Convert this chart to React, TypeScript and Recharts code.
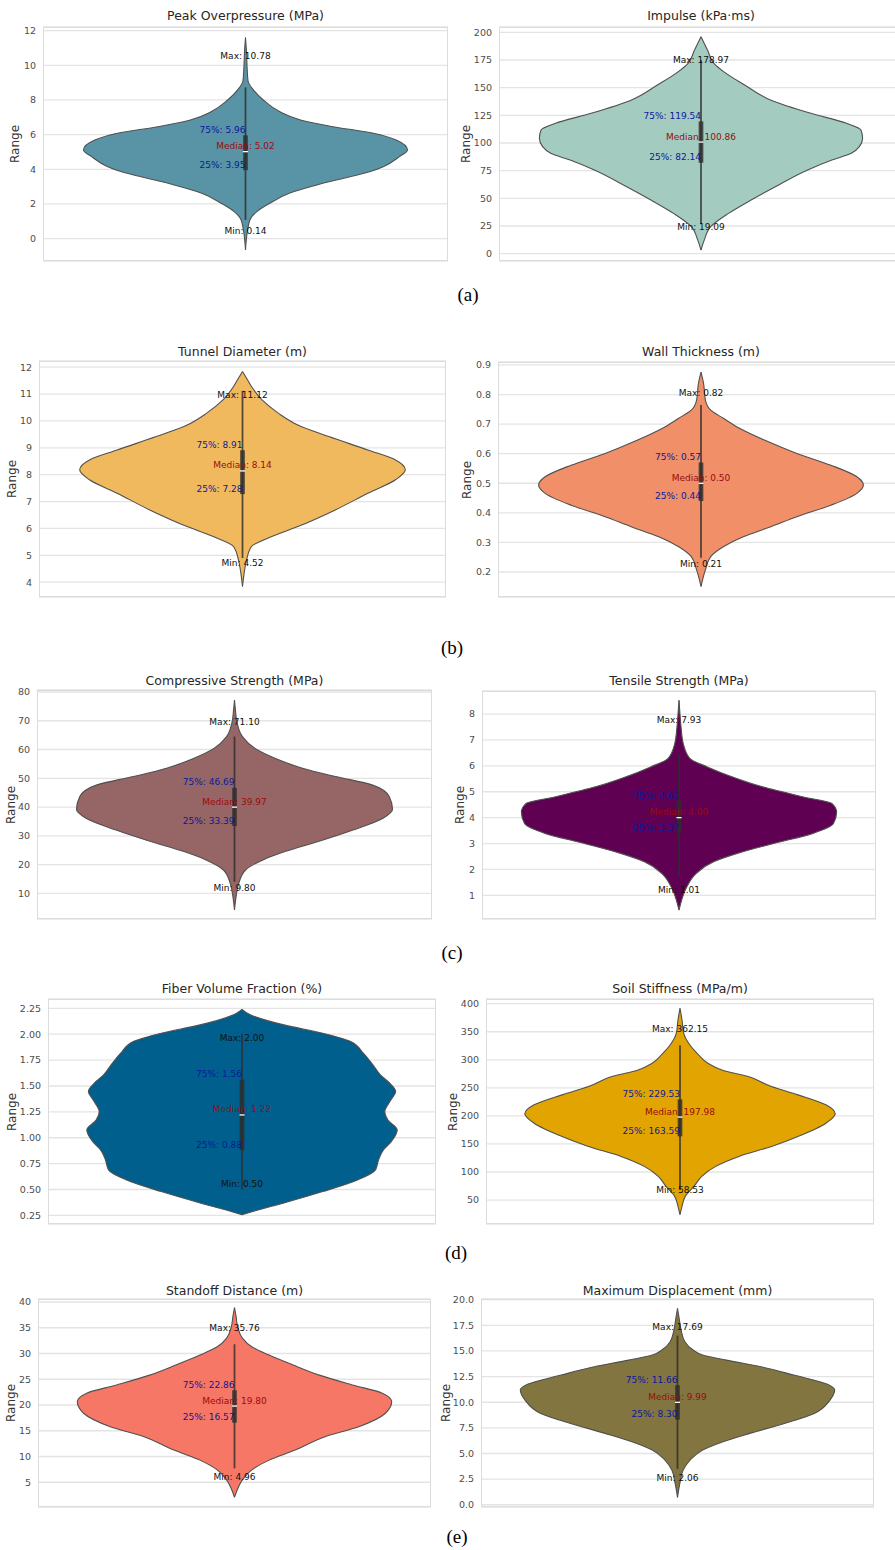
import React from 'react';
import { ComposedChart, Area, XAxis, YAxis, CartesianGrid, ReferenceLine, ReferenceDot } from 'recharts';

// violin outlines: value levels and half-width (% of the widest point)
const PEAK_LEVELS = [-0.65, 0.31, 1.08, 1.56, 2.04, 2.62, 3.1, 3.58, 3.87, 4.15, 4.73, 5.12, 5.69, 6.08, 6.46, 6.85, 7.33, 8.0, 8.6, 9.08, 9.85, 10.8, 11.6];
const PEAK_WIDTHS = [0, 1, 2.7, 7, 15, 27, 44, 65, 77, 85, 95, 100, 93, 79, 54, 34, 21, 11, 4.7, 1.6, 1, 0.6, 0];
const PEAK_STATS = [0.14, 3.95, 5.02, 5.96, 10.78];
const PEAK_WHISKERS = [1.08, 8.73];

const IMPULSE_LEVELS = [3.3, 12.3, 24.4, 36.4, 48.5, 60.5, 75.6, 84.6, 90.7, 96.7, 104.2, 111.7, 117.8, 126.8, 138.9, 152.4, 164.5, 172, 184, 196];
const IMPULSE_WIDTHS = [0, 2, 6, 17, 31, 46, 66, 81, 93, 98, 100, 99, 90, 68, 43, 27, 14, 8, 4, 0];
const IMPULSE_STATS = [19.09, 82.14, 100.86, 119.54, 178.97];
const IMPULSE_WHISKERS = [27, 175];

const TUNNEL_LEVELS = [3.84, 4.33, 4.83, 5.33, 5.7, 6.07, 6.69, 7.31, 7.81, 8.18, 8.55, 8.92, 9.42, 9.85, 10.29, 10.78, 11.28, 11.59, 11.84];
const TUNNEL_WIDTHS = [0, 1, 2.5, 5.5, 18, 34, 57, 77, 94, 100, 94, 77, 53, 34, 22, 12, 5.5, 2.5, 0];
const TUNNEL_STATS = [4.52, 7.28, 8.14, 8.91, 11.12];
const TUNNEL_WHISKERS = [4.9, 11.12];

const WALL_LEVELS = [0.151, 0.207, 0.252, 0.286, 0.319, 0.353, 0.387, 0.426, 0.466, 0.494, 0.522, 0.561, 0.601, 0.646, 0.685, 0.719, 0.747, 0.781, 0.837, 0.876];
const WALL_WIDTHS = [0, 2.7, 6, 14, 26, 43, 59, 80, 96, 100, 96, 80, 59, 39, 24, 14, 6, 2.7, 1.6, 0];
const WALL_STATS = [0.21, 0.44, 0.5, 0.57, 0.82];
const WALL_WHISKERS = [0.248, 0.765];

const COMPRESSIVE_LEVELS = [4.2, 8.85, 13.5, 18.1, 21.6, 24.5, 28.0, 32.0, 36.1, 39.2, 43.6, 47.7, 50.6, 53.5, 56.9, 60.4, 64.5, 69.1, 73.7, 77.2];
const COMPRESSIVE_WIDTHS = [0, 1, 2.7, 7, 18, 32, 53, 75, 94, 100, 98, 87, 64, 43, 26, 13, 5, 1.7, 0.6, 0];
const COMPRESSIVE_STATS = [9.8, 33.39, 39.97, 46.69, 71.1];
const COMPRESSIVE_WHISKERS = [14, 64.5];

const TENSILE_LEVELS = [0.43, 0.82, 1.33, 1.85, 2.3, 2.62, 3.0, 3.39, 3.77, 4.22, 4.55, 4.8, 5.19, 5.57, 5.96, 6.28, 6.86, 7.5, 8.01, 8.53];
const TENSILE_WIDTHS = [0, 1.7, 5, 11, 22, 37, 60, 85, 98, 100, 97, 79, 53, 34, 18, 7, 2.7, 1.3, 0.6, 0];
const TENSILE_STATS = [1.01, 3.37, 4.0, 4.63, 7.93];
const TENSILE_WHISKERS = [1.75, 6.45];

const FIBER_LEVELS = [0.256, 0.29, 0.37, 0.48, 0.59, 0.69, 0.787, 0.88, 0.96, 1.076, 1.17, 1.25, 1.366, 1.446, 1.53, 1.61, 1.69, 1.82, 1.93, 2.01, 2.09, 2.19, 2.24];
const FIBER_WIDTHS = [0, 7.5, 27, 52, 74, 86, 88, 91, 96, 100, 94, 92, 96, 99, 95, 89, 85, 78, 70, 52, 27, 5, 0];
const FIBER_STATS = [0.5, 0.88, 1.22, 1.56, 2.0];
const FIBER_WHISKERS = [0.5, 2.0];

const SOIL_LEVELS = [24, 38.8, 56.6, 74.4, 92.2, 110, 127.8, 145.6, 163.3, 187, 203.7, 219.7, 237.5, 252.3, 270.1, 282, 293.8, 308.7, 329.4, 347.2, 370.9, 391.7];
const SOIL_WIDTHS = [0, 1.3, 3.4, 9, 14, 23, 38, 59, 76, 94, 100, 94, 76, 59, 44, 27, 18, 12, 5.6, 2.4, 1.3, 0];
const SOIL_STATS = [58.53, 163.59, 197.98, 229.53, 362.15];
const SOIL_WHISKERS = [68, 326];

const STANDOFF_LEVELS = [2.1, 3.5, 5.46, 7.4, 9.3, 11.3, 13.9, 15.8, 18.4, 20.66, 22.3, 23.9, 25.8, 27.8, 29.7, 31.3, 33.0, 35.2, 37.2, 38.9];
const STANDOFF_WIDTHS = [0, 1.7, 5, 11, 22, 39, 58, 79, 96, 100, 94, 75, 54, 37, 22, 11, 5, 2, 1, 0];
const STANDOFF_STATS = [4.96, 16.57, 19.8, 22.86, 35.76];
const STANDOFF_WHISKERS = [7.7, 31.8];

const DISP_LEVELS = [0.72, 2.08, 3.38, 4.36, 5.33, 6.15, 6.96, 7.93, 8.91, 10.21, 11.19, 11.77, 12.65, 13.46, 14.11, 14.6, 15.09, 15.9, 17.37, 18.34, 19.15];
const DISP_WIDTHS = [0, 1.5, 3.6, 8, 16, 29, 46, 68, 87, 97, 100, 95, 74, 53, 31, 16, 10, 4.7, 1.9, 0.9, 0];
const DISP_STATS = [2.06, 8.3, 9.99, 11.66, 17.69];
const DISP_WHISKERS = [3.5, 16.5];

const CAPTIONS = ['(a)', '(b)', '(c)', '(d)', '(e)'];

const FONT = '"DejaVu Sans", sans-serif';

// frame = [left, top, right, bottom] of the plot box on the page
const PANELS = [
  { title: 'Peak Overpressure (MPa)', levels: PEAK_LEVELS, widths: PEAK_WIDTHS, stats: PEAK_STATS, whiskers: PEAK_WHISKERS,
    ticks: [0, 2, 4, 6, 8, 10, 12], domain: [-1.29, 12.21], digits: 0, fill: '#5894a6', frame: [43, 27, 448, 261], labelX: 15, titleY: 16 },
  { title: 'Impulse (kPa·ms)', levels: IMPULSE_LEVELS, widths: IMPULSE_WIDTHS, stats: IMPULSE_STATS, whiskers: IMPULSE_WHISKERS,
    ticks: [0, 25, 50, 75, 100, 125, 150, 175, 200], domain: [-6.6, 204.8], digits: 0, fill: '#a3cbbf', frame: [499, 27, 903, 261], labelX: 466, titleY: 16 },
  { title: 'Tunnel Diameter (m)', levels: TUNNEL_LEVELS, widths: TUNNEL_WIDTHS, stats: TUNNEL_STATS, whiskers: TUNNEL_WHISKERS,
    ticks: [4, 5, 6, 7, 8, 9, 10, 11, 12], domain: [3.45, 12.23], digits: 0, fill: '#f1b95e', frame: [39, 361, 446, 597], labelX: 12, titleY: 352 },
  { title: 'Wall Thickness (m)', levels: WALL_LEVELS, widths: WALL_WIDTHS, stats: WALL_STATS, whiskers: WALL_WHISKERS,
    ticks: [0.2, 0.3, 0.4, 0.5, 0.6, 0.7, 0.8, 0.9], domain: [0.1155, 0.91], digits: 1, fill: '#f08f68', frame: [498, 362, 904, 597], labelX: 467, titleY: 352 },
  { title: 'Compressive Strength (MPa)', levels: COMPRESSIVE_LEVELS, widths: COMPRESSIVE_WIDTHS, stats: COMPRESSIVE_STATS, whiskers: COMPRESSIVE_WHISKERS,
    ticks: [10, 20, 30, 40, 50, 60, 70, 80], domain: [1.06, 80.7], digits: 0, fill: '#966565', frame: [37, 690, 432, 919], labelX: 11, titleY: 681 },
  { title: 'Tensile Strength (MPa)', levels: TENSILE_LEVELS, widths: TENSILE_WIDTHS, stats: TENSILE_STATS, whiskers: TENSILE_WHISKERS,
    ticks: [1, 2, 3, 4, 5, 6, 7, 8], domain: [0.087, 8.89], digits: 0, fill: '#5f0052', frame: [482, 691, 876, 919], labelX: 460, titleY: 681 },
  { title: 'Fiber Volume Fraction (%)', levels: FIBER_LEVELS, widths: FIBER_WIDTHS, stats: FIBER_STATS, whiskers: FIBER_WHISKERS,
    ticks: [0.25, 0.5, 0.75, 1, 1.25, 1.5, 1.75, 2, 2.25], domain: [0.167, 2.34], digits: 2, fill: '#005f8c', frame: [48, 999, 436, 1224], labelX: 12, titleY: 989 },
  { title: 'Soil Stiffness (MPa/m)', levels: SOIL_LEVELS, widths: SOIL_WIDTHS, stats: SOIL_STATS, whiskers: SOIL_WHISKERS,
    ticks: [50, 100, 150, 200, 250, 300, 350, 400], domain: [7.3, 408.4], digits: 0, fill: '#e2a400', frame: [486, 999, 874, 1224], labelX: 453, titleY: 989 },
  { title: 'Standoff Distance (m)', levels: STANDOFF_LEVELS, widths: STANDOFF_WIDTHS, stats: STANDOFF_STATS, whiskers: STANDOFF_WHISKERS,
    ticks: [5, 10, 15, 20, 25, 30, 35, 40], domain: [0.2, 40.58], digits: 0, fill: '#f67766', frame: [38, 1299, 431, 1507], labelX: 11, titleY: 1291 },
  { title: 'Maximum Displacement (mm)', levels: DISP_LEVELS, widths: DISP_WIDTHS, stats: DISP_STATS, whiskers: DISP_WHISKERS,
    ticks: [0, 2.5, 5, 7.5, 10, 12.5, 15, 17.5, 20], domain: [-0.22, 20.07], digits: 1, fill: '#837540', frame: [481, 1299, 874, 1507], labelX: 446, titleY: 1291 },
];

const CAPTION_POS = [[468, 295], [452, 648], [452, 953], [456, 1253], [457, 1537]];

function StatText(props: any) {
  const { viewBox, text, color, anchor, dy } = props;
  if (!viewBox) return null;
  const cx = viewBox.x + (viewBox.width || 0) / 2;
  const cy = viewBox.y + (viewBox.height || 0) / 2;
  return (
    <text x={cx} y={cy + dy} textAnchor={anchor} dominantBaseline="central" fontSize={9} fontFamily={FONT} fill={color}>
      {text}
    </text>
  );
}

const AXIS_W = 40;
const PAD = 10; // room above/below the plot box so edge tick labels are not clipped
const BOX_COLOR = 'rgba(45,45,45,0.8)';

function ViolinPanel({ p }: { p: any }) {
  const [x0, y0, x1, y1] = p.frame;
  const w = x1 - x0;
  const h = y1 - y0;
  const rows = p.levels.map((v: number, i: number) => ({ v, band: [-p.widths[i], p.widths[i]] }));
  const [mn, q1, med, q3, mx] = p.stats;
  const [lo, hi] = p.whiskers;
  return (
    <>
      <div style={{ position: 'absolute', left: x0, width: w, top: p.titleY - 8, height: 16, lineHeight: '16px', textAlign: 'center', fontFamily: FONT, fontSize: 12.5, color: '#262626', whiteSpace: 'nowrap' }}>
        {p.title}
      </div>
      <div style={{ position: 'absolute', left: p.labelX, top: (y0 + y1) / 2, transform: 'translate(-50%, -50%) rotate(-90deg)', fontFamily: FONT, fontSize: 12, color: '#333', whiteSpace: 'nowrap' }}>
        Range
      </div>
      <div style={{ position: 'absolute', left: x0 - AXIS_W, top: y0 - PAD }}>
        <ComposedChart layout="vertical" width={w + AXIS_W} height={h + 2 * PAD} data={rows} margin={{ top: PAD, right: 0, bottom: PAD, left: 0 }}>
          <CartesianGrid vertical={false} stroke="#e4e4e4" strokeWidth={1.3} />
          <XAxis type="number" domain={[-125, 125]} hide />
          <YAxis type="number" dataKey="v" domain={p.domain} ticks={p.ticks} interval={0} reversed allowDataOverflow width={AXIS_W}
            axisLine={false} tickLine={false} tickSize={5} tickMargin={2}
            tick={{ fontSize: 9.5, fill: '#4d4d4d', fontFamily: FONT }}
            tickFormatter={(t: number) => t.toFixed(p.digits)} />
          <Area type="monotone" dataKey="band" fill={p.fill} fillOpacity={1} stroke="#505050" strokeWidth={1.1}
            dot={false} activeDot={false} isAnimationActive={false} />
          <ReferenceDot x={0} y={mx} r={0} label={<StatText text={`Max: ${mx.toFixed(2)}`} color="#111" anchor="middle" dy={4} />} />
          <ReferenceDot x={0} y={q3} r={0} label={<StatText text={`75%: ${q3.toFixed(2)}`} color="#0a1a9a" anchor="end" dy={-5.5} />} />
          <ReferenceDot x={0} y={med} r={0} label={<StatText text={`Median: ${med.toFixed(2)}`} color="#9a0c0c" anchor="middle" dy={-5.5} />} />
          <ReferenceDot x={0} y={q1} r={0} label={<StatText text={`25%: ${q1.toFixed(2)}`} color="#0a1a9a" anchor="end" dy={-5.5} />} />
          <ReferenceDot x={0} y={mn} r={0} label={<StatText text={`Min: ${mn.toFixed(2)}`} color="#111" anchor="middle" dy={-5.5} />} />
          <ReferenceLine segment={[{ x: 0, y: lo }, { x: 0, y: hi }]} stroke={BOX_COLOR} strokeWidth={1.8} />
          <ReferenceLine segment={[{ x: 0, y: q1 }, { x: 0, y: q3 }]} stroke={BOX_COLOR} strokeWidth={4.7} />
          <ReferenceLine segment={[{ x: -1.6, y: med }, { x: 1.6, y: med }]} stroke="#ffffff" strokeWidth={1.3} />
        </ComposedChart>
      </div>
      <div style={{ position: 'absolute', left: x0, top: y0, width: w, height: h, border: '1px solid #dcdcdc', boxSizing: 'border-box', pointerEvents: 'none' }} />
    </>
  );
}

export default function App() {
  return (
    <div style={{ position: 'absolute', left: 0, top: 0, width: 895, height: 1550, overflow: 'hidden', background: '#fff' }}>
      {PANELS.map((p) => (
        <ViolinPanel key={p.title} p={p} />
      ))}
      {CAPTIONS.map((c, i) => (
        <div key={c} style={{ position: 'absolute', left: CAPTION_POS[i][0], top: CAPTION_POS[i][1], transform: 'translate(-50%, -50%)', fontFamily: '"Liberation Serif", serif', fontSize: 19, color: '#000' }}>
          {c}
        </div>
      ))}
    </div>
  );
}
